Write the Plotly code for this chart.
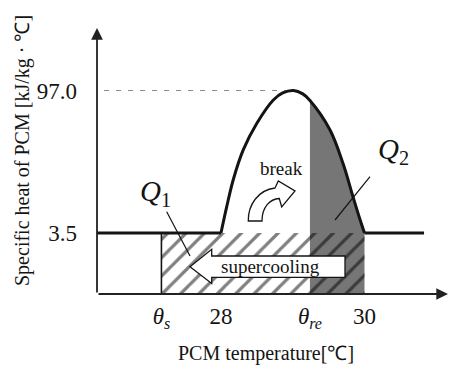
import plotly.graph_objects as go

# ---------------- data ----------------
curve_T = [28.00, 28.08, 28.17, 28.31, 28.50, 28.73, 28.86, 29.01, 29.14, 29.24, 29.52, 29.70, 29.84, 29.94, 30.00]
curve_cp = [3.5, 20.8, 38.3, 58.0, 75.5, 90.8, 95.4, 97.0, 94.8, 90.5, 71.1, 49.2, 27.3, 12.0, 3.5]
base_cp = 3.5          # sensible specific heat
peak_cp = 97.0         # peak specific heat
theta_s = 27.17        # supercooled temperature
theta_re = 29.24       # re-solidification temperature
T_melt_start = 28.0
T_melt_end = 30.0
T_line_end = 30.83
xtick_vals = [theta_s, 28.0, theta_re, 30.0]
xtick_text = ["<i>θ</i><sub><i>s</i></sub>", "28", "<i>θ</i><sub><i>re</i></sub>", "30"]
ytick_vals = [3.5, 97.0]
ytick_text = ["3.5", "97.0"]

# ---------------- schematic (broken) vertical scale ----------------
H_BASE, H_PEAK = 61.0, 203.5


def to_h(cp):
    if cp <= base_cp:
        return cp / base_cp * H_BASE
    return H_BASE + (cp - base_cp) / (peak_cp - base_cp) * (H_PEAK - H_BASE)


# ---------------- layout geometry ----------------
W, Hfig = 449, 366
ML, MR, MT, MB = 97, 1, 28, 72
PW, PH = W - ML - MR, Hfig - MT - MB
X0, X1 = 26.272, 31.164
Y0, Y1 = 0.0, float(PH)
FONT = "Liberation Serif, Times New Roman, serif"
INK = "#141414"


def px2x(px):
    return X0 + (px - ML) / PW * (X1 - X0)


def py2y(py):
    return (MT + PH) - py


def path(cmds):
    out = []
    for c in cmds:
        if c == "Z":
            out.append("Z")
            continue
        op, pts = c[0], c[1:]
        out.append(op + " " + " ".join(f"{px2x(p[0]):.4f},{py2y(p[1]):.3f}" for p in pts))
    return " ".join(out)


fig = go.Figure()

# Q2 dark area (under curve from theta_re to 30)
idx = [i for i, t in enumerate(curve_T) if t >= theta_re]
fig.add_trace(go.Scatter(
    x=[curve_T[i] for i in idx], y=[to_h(curve_cp[i]) for i in idx],
    mode="lines", line=dict(width=0, color="rgba(0,0,0,0)", shape="spline"),
    fill="tozeroy", fillcolor="#767676", hoverinfo="skip", showlegend=False))

# Q1 hatched area (theta_s .. 30 below sensible level)
fig.add_trace(go.Scatter(
    x=[theta_s, theta_s, T_melt_end, T_melt_end, theta_s],
    y=[0, to_h(base_cp), to_h(base_cp), 0, 0],
    mode="lines", line=dict(width=0, color="rgba(0,0,0,0)"),
    fill="toself", fillcolor="rgba(0,0,0,0)",
    fillpattern=dict(shape="/", fgcolor="#000000", bgcolor="rgba(0,0,0,0)", size=13, solidity=0.25),
    hoverinfo="skip", showlegend=False))
fig.add_trace(go.Scatter(
    x=[theta_s, theta_s], y=[0, to_h(base_cp)], mode="lines",
    line=dict(color=INK, width=1.6), hoverinfo="skip", showlegend=False))

# dashed guide at peak
peak_T = curve_T[curve_cp.index(peak_cp)]
fig.add_trace(go.Scatter(
    x=[px2x(104), peak_T], y=[to_h(peak_cp)] * 2, mode="lines",
    line=dict(color="#8a8a8a", width=1.2, dash="5px,7px"), hoverinfo="skip", showlegend=False))

# specific heat curve
fig.add_trace(go.Scatter(
    x=[X0, T_melt_start], y=[to_h(base_cp)] * 2, mode="lines",
    line=dict(color=INK, width=3), hoverinfo="skip", showlegend=False))
fig.add_trace(go.Scatter(
    x=curve_T, y=[to_h(v) for v in curve_cp], mode="lines",
    line=dict(color=INK, width=3, shape="spline", smoothing=1.0), hoverinfo="skip", showlegend=False))
fig.add_trace(go.Scatter(
    x=[T_melt_end, T_line_end], y=[to_h(base_cp)] * 2, mode="lines",
    line=dict(color=INK, width=3), hoverinfo="skip", showlegend=False))

# ---------------- decorations ----------------
supercool_arrow = path([
    ("M", (190, 266.7)), ("L", (211.7, 249.3)), ("L", (211.7, 256)), ("L", (345, 256)),
    ("L", (345, 277.3)), ("L", (211.7, 277.3)), ("L", (211.7, 283.5)), "Z"])
break_arrow = path([
    ("M", (248.3, 221)), ("C", (248, 205), (258, 190), (275, 188)),
    ("L", (278.3, 181)), ("L", (295, 191)), ("L", (281.7, 207)), ("L", (279.3, 198.5)),
    ("C", (270, 199), (262, 207), (262, 221)), "Z"])

shapes = [
    dict(type="path", path=supercool_arrow, xref="x", yref="y", fillcolor="white",
         line=dict(color=INK, width=1.3), layer="above"),
    dict(type="path", path=break_arrow, xref="x", yref="y", fillcolor="white",
         line=dict(color=INK, width=1.3), layer="above"),
    dict(type="line", xref="x", yref="y", x0=px2x(166.7), y0=py2y(211.7), x1=px2x(190), y1=py2y(256),
         line=dict(color=INK, width=1.2), layer="above"),
    dict(type="line", xref="x", yref="y", x0=px2x(370), y0=py2y(176.7), x1=px2x(335), y1=py2y(220),
         line=dict(color=INK, width=1.2), layer="above"),
]

annotations = [
    # axes with arrow heads
    dict(x=X1, y=0, ax=X0, ay=0, xref="x", yref="y", axref="x", ayref="y", text="",
         showarrow=True, arrowhead=2, arrowsize=1.3, arrowwidth=1.8, arrowcolor="#222"),
    dict(x=X0, y=Y1, ax=X0, ay=0, xref="x", yref="y", axref="x", ayref="y", text="",
         showarrow=True, arrowhead=2, arrowsize=1.3, arrowwidth=1.8, arrowcolor="#222"),
    # labels
    dict(x=px2x(270.5), y=py2y(266), xref="x", yref="y", text="supercooling", showarrow=False,
         xanchor="center", yanchor="middle", font=dict(family=FONT, size=19, color=INK)),
    dict(x=px2x(281.5), y=py2y(168), xref="x", yref="y", text="break", showarrow=False,
         xanchor="center", yanchor="middle", font=dict(family=FONT, size=19, color=INK)),
    dict(x=px2x(155.5), y=py2y(193), xref="x", yref="y", text="<i>Q</i><sub>1</sub>", showarrow=False,
         xanchor="center", yanchor="middle", font=dict(family=FONT, size=29, color=INK)),
    dict(x=px2x(393.5), y=py2y(151), xref="x", yref="y", text="<i>Q</i><sub>2</sub>", showarrow=False,
         xanchor="center", yanchor="middle", font=dict(family=FONT, size=29, color=INK)),
    # axis titles
    dict(x=(266 - ML) / PW, y=((MT + PH) - 354) / PH, xref="paper", yref="paper",
         xanchor="center", yanchor="middle",
         text="PCM temperature[℃]", showarrow=False, font=dict(family=FONT, size=20, color=INK)),
    dict(x=(22 - ML) / PW, y=((MT + PH) - 151) / PH, xref="paper", yref="paper", textangle=-90,
         xanchor="center", yanchor="middle",
         text="Specific heat of PCM [kJ/kg · ℃]", showarrow=False,
         font=dict(family=FONT, size=20, color=INK)),
]

fig.update_layout(
    width=W, height=Hfig, margin=dict(l=ML, r=MR, t=MT, b=MB, pad=0),
    paper_bgcolor="white", plot_bgcolor="white", showlegend=False,
    shapes=shapes, annotations=annotations,
    font=dict(family=FONT, color=INK),
    xaxis=dict(range=[X0, X1], showgrid=False, zeroline=False, showline=False,
               tickmode="array", tickvals=xtick_vals, ticktext=xtick_text,
               ticks="", ticklabelstandoff=6,
               tickfont=dict(family=FONT, size=23, color=INK), automargin=False, fixedrange=True),
    yaxis=dict(range=[Y0, Y1], showgrid=False, zeroline=False, showline=False,
               tickmode="array", tickvals=[to_h(v) for v in ytick_vals], ticktext=ytick_text,
               ticks="", ticklabelstandoff=19,
               tickfont=dict(family=FONT, size=23, color=INK), automargin=False, fixedrange=True),
)

fig.write_html("out.html")
